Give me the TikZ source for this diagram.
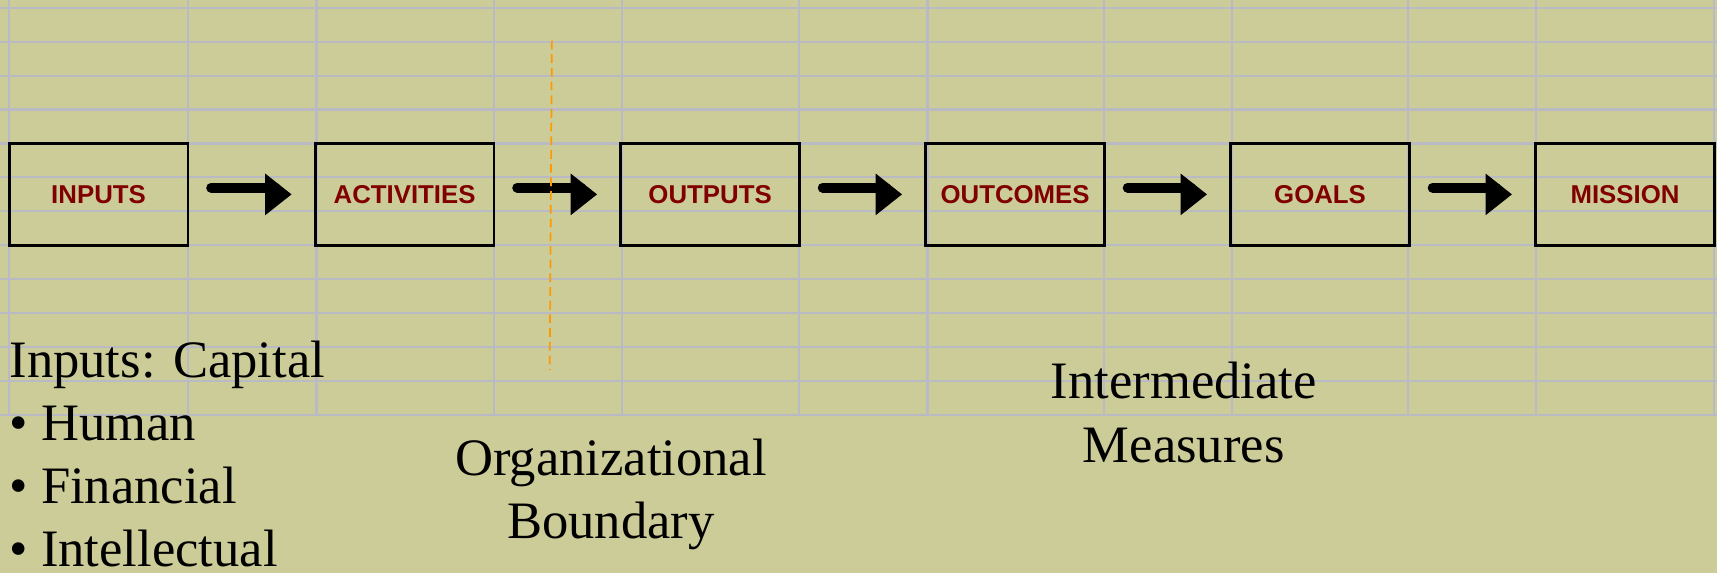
\documentclass[tikz,border=0pt]{standalone}
\usepackage{fontspec}
\usepackage{xcolor}
\usepackage{tikz}
\usetikzlibrary{arrows.meta}
\setmainfont{Liberation Serif}
\newfontfamily\stagefont{Liberation Sans}

\definecolor{khaki}{RGB}{204,204,153}
\definecolor{cellgray}{RGB}{186,186,196}
\definecolor{stagered}{RGB}{128,0,0}
\definecolor{boundaryorange}{RGB}{255,153,0}

\begin{document}
\begin{tikzpicture}[x=0.01cm, y=-0.01cm,
    stagebox/.style={draw=black, line width=0.7pt, minimum width=1.63cm, minimum height=0.93cm,
        inner sep=0pt, text=stagered, font=\stagefont\bfseries\fontsize{6.7}{8}\selectfont},
    flowshaft/.style={line width=0.09cm, line cap=round, shorten <=0.2cm, shorten >=0.35cm},
    flowhead/.style={fill=black},
    gridline/.style={cellgray, line width=0.55pt},
    bodytext/.style={inner sep=0pt, font=\fontsize{13.66}{16.4}\selectfont}]
                % Background and spreadsheet grid
                \useasboundingbox (0,0) rectangle (1568,523);
                \fill[khaki] (0,0) rectangle (1568,523);
                \foreach \gy in {0,...,12} {
                    \draw[gridline] (0,7+31*\gy) -- (1568,7+31*\gy);
                }
                \foreach \gx in {8, 172, 289, 451, 568, 730, 847, 1008, 1125, 1286, 1403, 1565} {
                    \draw[gridline] (\gx,0) -- (\gx,379);
                }
                % Stages
                \foreach \name/\label/\cx in {inputs/INPUTS/90, activities/ACTIVITIES/369.5,
                        outputs/OUTPUTS/648.5, outcomes/OUTCOMES/927, goals/GOALS/1205.5, mission/MISSION/1484} {
                    \node[stagebox] (\name) at (\cx,177.5) {\label};
                }
                \foreach \a/\b in {inputs/activities, activities/outputs, outputs/outcomes,
                        outcomes/goals, goals/mission} {
                    \draw[flowshaft] ([yshift=0.062cm]\a.east) -- ([yshift=0.062cm]\b.west);
                    \fill[flowhead] ([xshift=-0.205cm]\b.west) -- ++(-24,-19) -- ++(0,38) -- cycle;
                }
                % Organizational boundary
                \draw[boundaryorange, line width=0.45pt, dash pattern=on 0.08cm off 0.045cm] (504,37) -- (502,338);
                % Labels
                \node[bodytext, anchor=base west] (capital) at (8,345) {Inputs: Capital};
                \foreach \name/\label/\by in {human/Human/402, financial/Financial/460, intellectual/Intellectual/517} {
                    \node[bodytext, anchor=base west] (\name) at (8,\by) {• \label};
                }
                \node[bodytext, align=center, anchor=base] (boundary) at (558,492) {Organizational\\Boundary};
                \node[bodytext, align=center, anchor=base] (intermediate) at (1081,422) {Intermediate\\Measures};
            \end{tikzpicture}
\end{document}
